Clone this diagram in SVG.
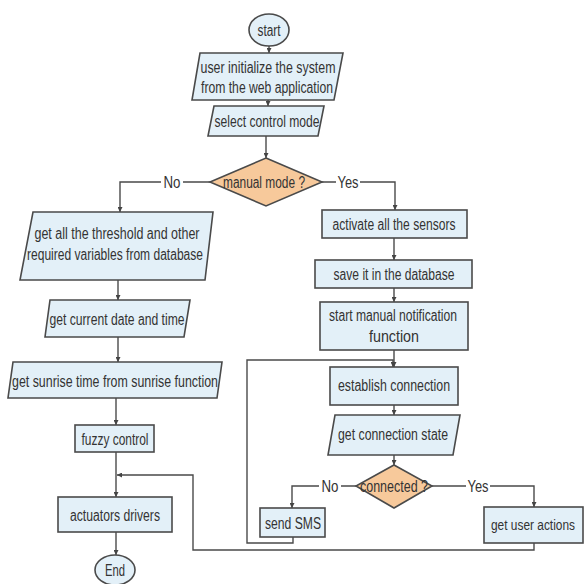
<svg xmlns="http://www.w3.org/2000/svg" width="587" height="584" viewBox="0 0 587 584">
<defs>
<marker id="ah" viewBox="0 0 6 6" refX="6" refY="3" markerWidth="5" markerHeight="5" orient="auto" markerUnits="userSpaceOnUse">
<path d="M0,0 L6,3 L0,6 z" fill="#444"/>
</marker>
<style>
.box{fill:#e3f0f8;stroke:#4a4a4a;stroke-width:1.6}
.dec{fill:#f7c99b;stroke:#4a4a4a;stroke-width:1.6}
.ar{fill:none;stroke:#4a4a4a;stroke-width:1.4;marker-end:url(#ah)}
text{font-family:"Liberation Sans",Arial,sans-serif;font-size:16px;fill:#333;text-anchor:middle}
</style>
</defs>
<rect width="587" height="584" fill="#fff"/>
<g id="connectors">
<line class="ar" x1="269" y1="46" x2="269" y2="53"/>
<line class="ar" x1="268" y1="100" x2="268" y2="106"/>
<line class="ar" x1="266" y1="136" x2="266" y2="158"/>
<polyline class="ar" points="210,182 120,182 120,212"/>
<polyline class="ar" points="322,182 395,182 395,210"/>
<line class="ar" x1="118" y1="280" x2="118" y2="300"/>
<line class="ar" x1="118" y1="337" x2="118" y2="362"/>
<line class="ar" x1="116" y1="398" x2="116" y2="425"/>
<line class="ar" x1="116" y1="452" x2="116" y2="497"/>
<polyline class="ar" points="534,543 534,550 193,550 193,475 117,475"/>
<line class="ar" x1="116" y1="532" x2="116" y2="555"/>
<line class="ar" x1="394" y1="238" x2="394" y2="260"/>
<line class="ar" x1="394" y1="288" x2="394" y2="302"/>
<line class="ar" x1="394" y1="350" x2="394" y2="367"/>
<polyline class="ar" points="293,537 293,543 247,543 247,360 393,360 393,367"/>
<line class="ar" x1="394" y1="405" x2="394" y2="415"/>
<line class="ar" x1="394" y1="455" x2="394" y2="465"/>
<polyline class="ar" points="356,486 292,486 292,508"/>
<polyline class="ar" points="432,486 534,486 534,507"/>
<rect x="161" y="174" width="22" height="16" fill="#fff"/>
<text x="172" y="188" textLength="17" lengthAdjust="spacingAndGlyphs">No</text>
<rect x="336" y="174" width="24" height="16" fill="#fff"/>
<text x="348" y="188" textLength="21" lengthAdjust="spacingAndGlyphs">Yes</text>
<rect x="319" y="478" width="22" height="16" fill="#fff"/>
<text x="330" y="492" textLength="17" lengthAdjust="spacingAndGlyphs">No</text>
<rect x="466" y="478" width="24" height="16" fill="#fff"/>
<text x="478" y="492" textLength="21" lengthAdjust="spacingAndGlyphs">Yes</text>
</g>
<g id="start">
<ellipse class="box" cx="269" cy="30" rx="20" ry="16"/>
<text x="269" y="36" textLength="23" lengthAdjust="spacingAndGlyphs">start</text>
</g>
<g id="init">
<polygon class="box" points="200,53 343,53 334,100 192,100"/>
<text x="268" y="73" textLength="135" lengthAdjust="spacingAndGlyphs">user initialize the system</text>
<text x="267" y="93" textLength="132" lengthAdjust="spacingAndGlyphs">from the web application</text>
</g>
<g id="select">
<polygon class="box" points="214,106 324,106 318,136 208,136"/>
<text x="267" y="127" textLength="105" lengthAdjust="spacingAndGlyphs">select control mode</text>
</g>
<g id="manual">
<polygon class="dec" points="266,158 322,182 266,206 210,182"/>
<text x="264" y="188" textLength="82" lengthAdjust="spacingAndGlyphs">manual mode ?</text>
</g>
<g id="thresholds">
<polygon class="box" points="33,212 213,212 205,280 20,280"/>
<text x="117" y="239" textLength="165" lengthAdjust="spacingAndGlyphs">get all the threshold and other</text>
<text x="115" y="260" textLength="176" lengthAdjust="spacingAndGlyphs">required variables from database</text>
</g>
<g id="datetime">
<polygon class="box" points="50,300 190,300 184,337 45,337"/>
<text x="117" y="325" textLength="135" lengthAdjust="spacingAndGlyphs">get current date and time</text>
</g>
<g id="sunrise">
<polygon class="box" points="13,362 222,362 217,398 8,398"/>
<text x="115" y="387" textLength="206" lengthAdjust="spacingAndGlyphs">get sunrise time from sunrise function</text>
</g>
<g id="fuzzy">
<rect class="box" x="75" y="425" width="79" height="27"/>
<text x="115" y="445" textLength="67" lengthAdjust="spacingAndGlyphs">fuzzy control</text>
</g>
<g id="actuators">
<rect class="box" x="58" y="497" width="114" height="35"/>
<text x="115" y="521" textLength="90" lengthAdjust="spacingAndGlyphs">actuators drivers</text>
</g>
<g id="end">
<ellipse class="box" cx="115" cy="570" rx="20" ry="15"/>
<text x="115" y="576" textLength="20" lengthAdjust="spacingAndGlyphs">End</text>
</g>
<g id="activate">
<rect class="box" x="322" y="210" width="145" height="28"/>
<text x="394" y="230" textLength="123" lengthAdjust="spacingAndGlyphs">activate all the sensors</text>
</g>
<g id="save">
<rect class="box" x="315" y="260" width="157" height="28"/>
<text x="394" y="280" textLength="121" lengthAdjust="spacingAndGlyphs">save it in the database</text>
</g>
<g id="notify">
<rect class="box" x="320" y="302" width="148" height="48"/>
<text x="393" y="321" textLength="128" lengthAdjust="spacingAndGlyphs">start manual notification</text>
<text x="394" y="342" textLength="50" lengthAdjust="spacingAndGlyphs">function</text>
</g>
<g id="establish">
<rect class="box" x="330" y="367" width="128" height="38"/>
<text x="394" y="391" textLength="112" lengthAdjust="spacingAndGlyphs">establish connection</text>
</g>
<g id="state">
<polygon class="box" points="335,415 460,415 453,455 328,455"/>
<text x="393" y="440" textLength="110" lengthAdjust="spacingAndGlyphs">get connection state</text>
</g>
<g id="connected">
<polygon class="dec" points="394,465 432,486 394,508 356,486"/>
<text x="394" y="492" textLength="68" lengthAdjust="spacingAndGlyphs">connected ?</text>
</g>
<g id="sms">
<rect class="box" x="260" y="508" width="65" height="29"/>
<text x="293" y="529" textLength="56" lengthAdjust="spacingAndGlyphs">send SMS</text>
</g>
<g id="useractions">
<rect class="box" x="484" y="507" width="99" height="36"/>
<text x="533" y="530" style="font-size:14px" textLength="84" lengthAdjust="spacingAndGlyphs">get user actions</text>
</g>
</svg>
